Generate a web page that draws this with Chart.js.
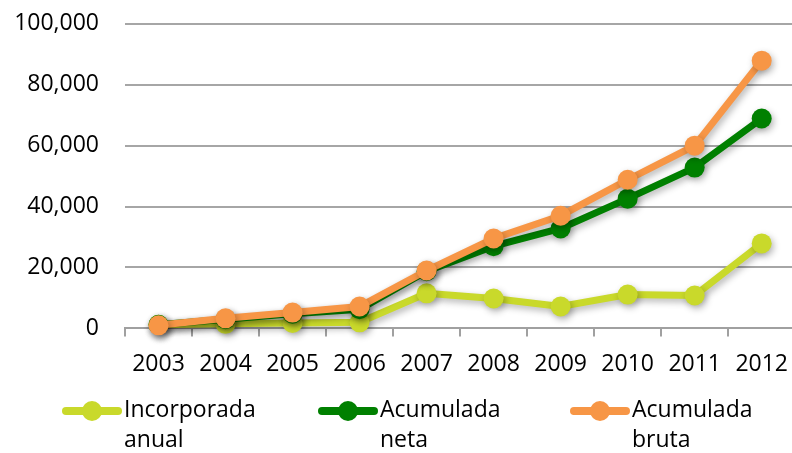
<!DOCTYPE html>
<html>
<head>
<meta charset="utf-8">
<script src="https://cdn.jsdelivr.net/npm/chart.js@4.4.0/dist/chart.umd.min.js"></script>
<style>
  body { margin: 0; background: #fff; }
  #wrap { position: relative; width: 792px; height: 453px; overflow: hidden; }
  #chart { position: absolute; left: 0; top: -16px; }
  #legend { position: absolute; left: 0; top: 396px; width: 792px; font-family: "Open Sans", sans-serif; font-size: 23px; color: #000; }
  .item { position: absolute; top: 0; line-height: 30px; }
  .item .sym { position: absolute; left: 0; top: 5px; width: 60px; height: 20px; }
  .item .txt { position: absolute; left: 62px; top: -3px; white-space: nowrap; }
</style>
</head>
<body>
<div id="wrap">
  <canvas id="chart" width="802" height="469"></canvas>
  <div id="legend"></div>
</div>
<script>
// ===== DATA =====
const years = ['2003','2004','2005','2006','2007','2008','2009','2010','2011','2012'];
const anual = [1200, 1500, 1800, 2000, 11500, 9800, 7200, 11100, 10800, 27900];
const neta  = [1200, 3000, 4800, 6300, 18800, 27000, 32800, 42600, 52800, 68900];
const bruta = [1000, 3300, 5200, 7200, 19000, 29500, 37000, 48800, 60000, 87900];
const yTicks = [0, 20000, 40000, 60000, 80000, 100000];

const series = [
    { label: ['Incorporada', 'anual'], data: anual, color: '#C9D92B', order: 2, x: 62 },
    { label: ['Acumulada', 'neta'],   data: neta,  color: '#008000', order: 1, x: 318 },
    { label: ['Acumulada', 'bruta'],  data: bruta, color: '#F79646', order: 0, x: 570 }
];

const FONT = { family: '"Open Sans", sans-serif', size: 23 };

// ===== SHADOW =====
const shadow = {
    id: 'shadow',
    beforeDatasetsDraw(chart) {
        const ctx = chart.ctx;
        ctx.save();
        ctx.shadowColor = 'rgba(0,0,0,0.3)';
        ctx.shadowBlur = 7;
        ctx.shadowOffsetX = 2;
        ctx.shadowOffsetY = 3;
    },
    afterDatasetsDraw(chart) {
        chart.ctx.restore();
    }
};

// ===== CHART =====
new Chart(document.getElementById('chart'), {
    type: 'line',
    data: {
        labels: years,
        datasets: series.map(s => ({
            label: s.label.join(' '),
            data: s.data,
            borderColor: s.color,
            backgroundColor: s.color,
            pointBackgroundColor: s.color,
            pointBorderColor: s.color,
            borderWidth: 7,
            pointRadius: 10,
            pointBorderWidth: 0,
            tension: 0,
            clip: false,
            order: s.order
        }))
    },
    options: {
        responsive: false,
        animation: false,
        layout: { autoPadding: false, padding: { left: 0, right: 0, top: 0, bottom: 61 } },
        plugins: { legend: { display: false }, tooltip: { enabled: false } },
        scales: {
            x: {
                offset: true,
                grid: { offset: true, drawOnChartArea: false, drawTicks: true, tickLength: 8, color: '#A0A0A0', lineWidth: 2 },
                border: { color: '#A0A0A0', width: 2 },
                ticks: { color: '#000', font: FONT, padding: 14, maxRotation: 0, autoSkip: false }
            },
            y: {
                min: 0,
                max: 100000,
                afterBuildTicks: axis => { axis.ticks = yTicks.map(v => ({ value: v })); },
                afterFit: axis => { axis.width = 125; },
                grid: { color: '#A6A6A6', lineWidth: 2, drawTicks: false },
                border: { display: false },
                ticks: {
                    color: '#000', font: FONT, padding: 26,
                    callback: v => v.toLocaleString('en-US')
                }
            }
        }
    },
    plugins: [shadow]
});

// ===== LEGEND =====
const legend = document.getElementById('legend');
series.forEach(s => {
    const div = document.createElement('div');
    div.className = 'item';
    div.style.left = s.x + 'px';
    div.innerHTML = `
        <svg class="sym" viewBox="0 0 60 20">
          <line x1="4" y1="10" x2="56" y2="10" stroke="${s.color}" stroke-width="8" stroke-linecap="round"/>
          <circle cx="30" cy="10" r="10" fill="${s.color}"/>
        </svg>
        <div class="txt">${s.label[0]}<br>${s.label[1]}</div>
    `;
    legend.appendChild(div);
});
</script>
</body>
</html>
